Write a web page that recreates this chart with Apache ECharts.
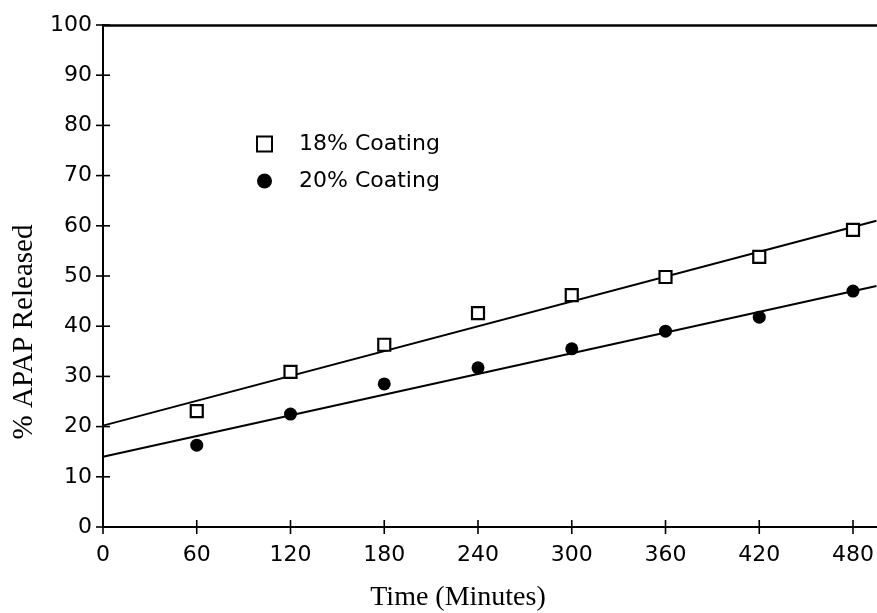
<!DOCTYPE html>
<html>
<head>
<meta charset="utf-8">
<script src="https://cdn.jsdelivr.net/npm/echarts@6/dist/echarts.min.js"></script>
<style>
  html, body { margin: 0; padding: 0; background: #fff; }
  #chart { width: 877px; height: 613px; }
</style>
</head>
<body>
<div id="chart"></div>
<script>
// Sampling times (minutes)
const times = [60, 120, 180, 240, 300, 360, 420, 480];
// Percent APAP released, measured
const coating18 = [23.1, 30.9, 36.3, 42.6, 46.2, 49.8, 53.8, 59.2];
const coating20 = [16.3, 22.5, 28.5, 31.7, 35.5, 39.0, 41.8, 47.0];
// Fitted release lines, end points [minutes, %]
const fit18 = [[0, 20.2], [495, 61.0]];
const fit20 = [[0, 14.0], [495, 48.0]];
// Axis ranges
const xMax = 495;
const xTicks = [0, 60, 120, 180, 240, 300, 360, 420, 480];
const yTicks = [0, 10, 20, 30, 40, 50, 60, 70, 80, 90, 100];

const tickFont = { fontFamily: 'DejaVu Sans', fontSize: 22, color: '#000' };
const titleFont = { fontFamily: 'Liberation Serif', fill: '#000' };
const pairs = (xs, ys) => xs.map((x, i) => [x, ys[i]]);
const half = 7; // crossing ticks reach this far on each side of the axis line

const chart = echarts.init(document.getElementById('chart'));
chart.setOption({
  animation: false,
  backgroundColor: '#fff',
  grid: { left: 103, right: 0, top: 25, bottom: 86 },
  legend: {
    data: ['18% Coating', '20% Coating'],
    orient: 'vertical',
    left: 251, top: 128,
    itemWidth: 15, itemHeight: 15,
    itemGap: 15,
    textStyle: { fontFamily: 'DejaVu Sans', fontSize: 22, color: '#000', padding: [0, 0, 0, 22] }
  },
  xAxis: [
    {
      type: 'value', min: 0, max: xMax, interval: 60, position: 'bottom',
      splitLine: { show: false },
      axisLine: { show: true, onZero: false, lineStyle: { color: '#000', width: 2 } },
      axisTick: { show: false },
      axisLabel: Object.assign({ margin: 17, showMaxLabel: false,
        formatter: v => xTicks.includes(v) ? String(v) : '' }, tickFont)
    },
    // top frame line
    {
      type: 'value', min: 0, max: xMax, interval: 60, position: 'top',
      splitLine: { show: false },
      axisLine: { show: true, onZero: false, lineStyle: { color: '#000', width: 2.5 } },
      axisTick: { show: false },
      axisLabel: { show: false }
    }
  ],
  yAxis: {
    type: 'value', min: 0, max: 100, interval: 10, position: 'left',
    splitLine: { show: false },
    axisLine: { show: true, onZero: false, lineStyle: { color: '#000', width: 2 } },
    axisTick: { show: false },
    axisLabel: Object.assign({ margin: 11,
      formatter: v => yTicks.includes(v) ? String(v) : '' }, tickFont)
  },
  series: [
    {
      name: 'fit 18%', type: 'line', data: fit18, symbol: 'none',
      lineStyle: { color: '#000', width: 2 }, z: 2
    },
    {
      name: 'fit 20%', type: 'line', data: fit20, symbol: 'none',
      lineStyle: { color: '#000', width: 2 }, z: 2
    },
    {
      name: '18% Coating', type: 'scatter', data: pairs(times, coating18),
      symbol: 'rect', symbolSize: 12,
      itemStyle: { color: '#fff', borderColor: '#000', borderWidth: 2.2, opacity: 1 }, z: 3
    },
    {
      name: '20% Coating', type: 'scatter', data: pairs(times, coating20),
      symbol: 'circle', symbolSize: 13,
      itemStyle: { color: '#000', opacity: 1 }, z: 3
    }
  ]
});

// Crossing tick marks and axis titles, positioned through the axis scales
const x0 = chart.convertToPixel({ xAxisIndex: 0 }, 0);
const y0 = chart.convertToPixel({ yAxisIndex: 0 }, 0);
const tickStyle = { stroke: '#000', lineWidth: 1.6 };
const ticks = [];
xTicks.forEach(v => {
  const px = chart.convertToPixel({ xAxisIndex: 0 }, v);
  ticks.push({ type: 'line', silent: true, z: 5,
    shape: { x1: px, y1: y0 - half, x2: px, y2: y0 + half }, style: tickStyle });
});
yTicks.forEach(v => {
  const py = chart.convertToPixel({ yAxisIndex: 0 }, v);
  ticks.push({ type: 'line', silent: true, z: 5,
    shape: { x1: x0 - half, y1: py, x2: x0 + half, y2: py }, style: tickStyle });
});
chart.setOption({
  graphic: ticks.concat([
    { type: 'text', x: 458, y: 598,
      style: Object.assign({ text: 'Time (Minutes)', fontSize: 28,
        align: 'center', verticalAlign: 'middle' }, titleFont) },
    { type: 'text', x: 24, y: 332, rotation: Math.PI / 2,
      style: Object.assign({ text: '% APAP Released', fontSize: 29,
        align: 'center', verticalAlign: 'middle' }, titleFont) }
  ])
});
</script>
</body>
</html>
